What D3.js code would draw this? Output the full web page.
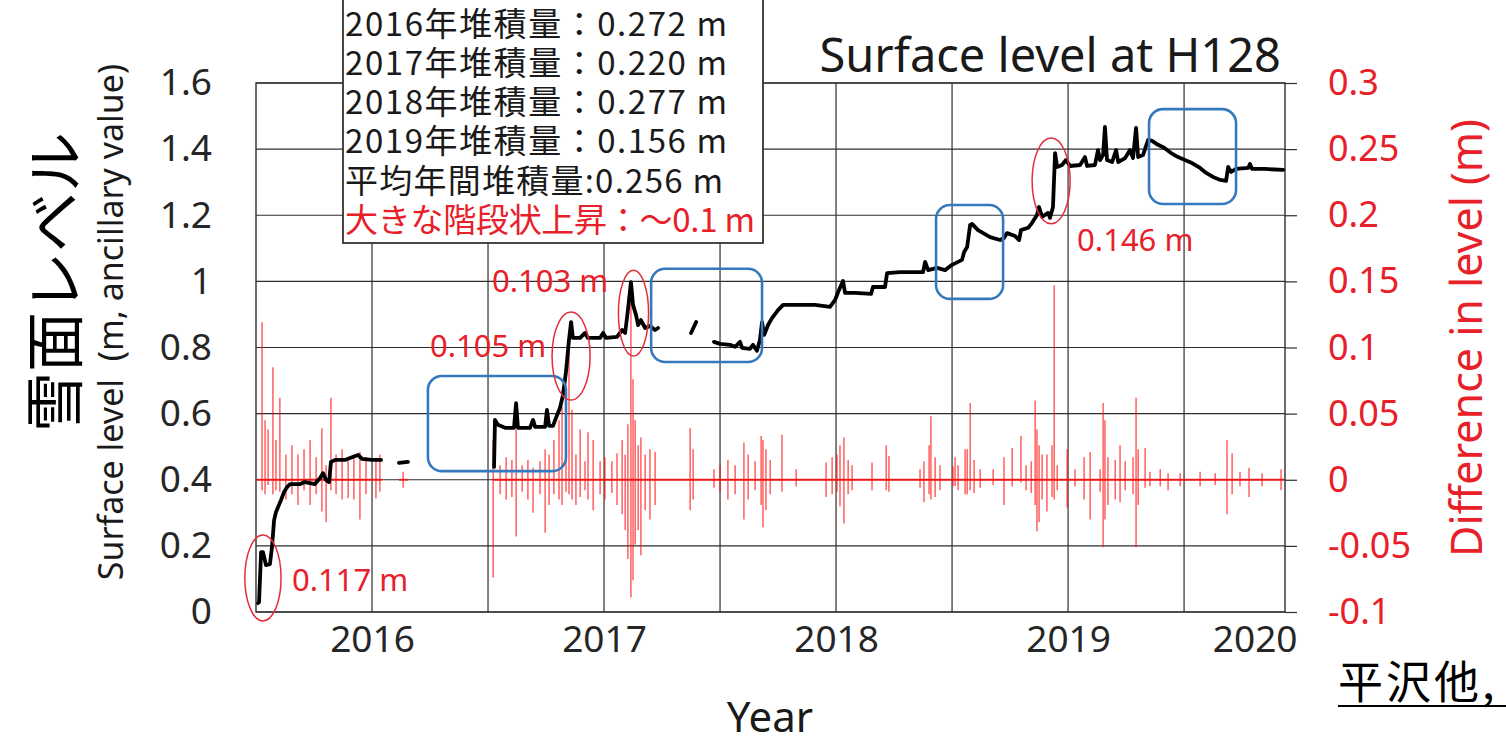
<!DOCTYPE html>
<html>
<head>
<meta charset="utf-8">
<script src="https://cdn.jsdelivr.net/npm/d3@7"></script>
<style>
  html, body { margin: 0; padding: 0; background: #ffffff; }
  svg { display: block; }
  text { font-family: "Noto Sans", "Noto Sans CJK JP", sans-serif; }
  .jp { font-family: "Noto Sans CJK JP", "Noto Sans", sans-serif; }
</style>
</head>
<body>
<svg id="chart" width="1506" height="740"></svg>
<script>
// ---------------- data ----------------
const yearTicks  = [2016, 2017, 2018, 2019, 2020];
const gridYears  = [2016, 2016.5, 2017, 2017.5, 2018, 2018.5, 2019, 2019.5];
const levelTicks = [0, 0.2, 0.4, 0.6, 0.8, 1.0, 1.2, 1.4, 1.6];
const diffTicks  = [-0.1, -0.05, 0, 0.05, 0.1, 0.15, 0.2, 0.25, 0.3];

// Surface level (m) at H128, decimal year; null marks missing record
const levelYears = [
  2015.509, 2015.513, 2015.522, 2015.530, 2015.543, 2015.560, 2015.569, 2015.578, 2015.586, 2015.599,
  2015.608, 2015.621, 2015.634, 2015.647, 2015.690, 2015.711, 2015.754, 2015.776, 2015.789, 2015.802,
  2015.815, 2015.823, 2015.841, 2015.884, 2015.905, 2015.940, 2015.957, 2016.000, 2016.039, 2016.080,
  2016.116, 2016.155, 2016.300,
  2016.526, 2016.530, 2016.543, 2016.573, 2016.612, 2016.621, 2016.629, 2016.681, 2016.694, 2016.703,
  2016.746, 2016.754, 2016.763, 2016.780, 2016.793, 2016.810, 2016.823, 2016.836, 2016.849, 2016.858,
  2016.866, 2016.897, 2016.918, 2016.931, 2016.983, 2016.996, 2017.009, 2017.056, 2017.078, 2017.091,
  2017.103, 2017.116, 2017.125, 2017.138, 2017.147, 2017.159, 2017.177, 2017.198, 2017.220, 2017.233,
  2017.300, 2017.375, 2017.397, 2017.430,
  2017.474, 2017.500, 2017.543, 2017.565, 2017.586, 2017.595, 2017.629, 2017.642, 2017.659, 2017.672,
  2017.681, 2017.690, 2017.707, 2017.724, 2017.750, 2017.772, 2017.845, 2017.909, 2017.974, 2017.996,
  2018.009, 2018.030, 2018.039, 2018.082, 2018.151, 2018.159, 2018.211, 2018.220, 2018.276, 2018.375,
  2018.384, 2018.397, 2018.435, 2018.470, 2018.500, 2018.543, 2018.552, 2018.565, 2018.578, 2018.586,
  2018.612, 2018.664, 2018.707, 2018.724, 2018.737, 2018.772, 2018.789, 2018.797, 2018.828, 2018.845,
  2018.866, 2018.875, 2018.888, 2018.914, 2018.922, 2018.935, 2018.944, 2018.953, 2018.974, 2018.991,
  2019.009, 2019.052, 2019.073, 2019.082, 2019.116, 2019.129, 2019.138, 2019.151, 2019.159, 2019.168,
  2019.190, 2019.207, 2019.216, 2019.246, 2019.267, 2019.280, 2019.293, 2019.302, 2019.323, 2019.345,
  2019.362, 2019.388, 2019.414, 2019.444, 2019.474, 2019.504, 2019.534, 2019.569, 2019.595, 2019.625,
  2019.655, 2019.681, 2019.690, 2019.703, 2019.724, 2019.776, 2019.784, 2019.793, 2019.849, 2019.927
];
const levelValues = [
  0.027, 0.030, 0.181, 0.181, 0.142, 0.145, 0.197, 0.278, 0.302, 0.324,
  0.339, 0.363, 0.378, 0.387, 0.387, 0.393, 0.387, 0.405, 0.420, 0.399,
  0.393, 0.454, 0.460, 0.460, 0.466, 0.475, 0.463, 0.460, 0.460, null,
  0.451, 0.454, null,
  0.439, 0.581, 0.566, 0.557, 0.557, 0.632, 0.557, 0.557, 0.581, 0.560,
  0.560, 0.611, 0.563, 0.563, 0.587, 0.617, 0.656, 0.726, 0.823, 0.877,
  0.829, 0.829, 0.844, 0.829, 0.829, 0.844, 0.829, 0.832, 0.853, 0.844,
  0.913, 0.998, 0.929, 0.898, 0.868, 0.883, 0.859, 0.865, 0.853, 0.859,
  null, 0.844, 0.877, null,
  0.817, 0.811, 0.808, 0.802, 0.817, 0.799, 0.796, 0.808, 0.790, 0.823,
  0.877, 0.838, 0.868, 0.889, 0.913, 0.929, 0.929, 0.929, 0.923, 0.944,
  0.968, 1.001, 0.965, 0.965, 0.962, 0.983, 0.983, 1.025, 1.028, 1.028,
  1.059, 1.034, 1.041, 1.034, 1.050, 1.065, 1.089, 1.104, 1.171, 1.174,
  1.155, 1.134, 1.125, 1.131, 1.146, 1.137, 1.125, 1.155, 1.162, 1.177,
  1.201, 1.225, 1.195, 1.207, 1.192, 1.225, 1.388, 1.346, 1.352, 1.367,
  1.349, 1.352, 1.376, 1.349, 1.352, 1.397, 1.367, 1.382, 1.467, 1.367,
  1.361, 1.397, 1.361, 1.373, 1.397, 1.373, 1.464, 1.376, 1.382, 1.428,
  1.425, 1.413, 1.404, 1.388, 1.376, 1.367, 1.358, 1.343, 1.328, 1.316,
  1.307, 1.304, 1.346, 1.331, 1.340, 1.343, 1.355, 1.340, 1.340, 1.337
];

// Level difference (m): recorded periods and spike extremes
const diffSpans = [[2015.504, 2016.043], [2016.116, 2016.155], [2016.522, 2019.930]];
const diffYears = [
  2015.526, 2015.539, 2015.552, 2015.573, 2015.586, 2015.603, 2015.629, 2015.655, 2015.681, 2015.707,
  2015.733, 2015.759, 2015.784, 2015.802, 2015.823, 2015.845, 2015.871, 2015.897, 2015.922, 2015.948,
  2015.974, 2016.017, 2016.034, 2016.134,
  2016.522, 2016.552, 2016.578, 2016.603, 2016.621, 2016.647, 2016.672, 2016.694, 2016.724, 2016.746,
  2016.763, 2016.784, 2016.806, 2016.819, 2016.836, 2016.849, 2016.862, 2016.879, 2016.897, 2016.918,
  2016.931, 2016.953, 2016.983, 2017.004, 2017.034, 2017.056, 2017.078, 2017.091, 2017.103, 2017.116,
  2017.125, 2017.134, 2017.147, 2017.159, 2017.177, 2017.198, 2017.220, 2017.371, 2017.384, 2017.474,
  2017.500, 2017.534, 2017.565, 2017.603, 2017.621, 2017.651, 2017.677, 2017.685, 2017.698, 2017.716,
  2017.767, 2017.828, 2017.957, 2017.983, 2018.004, 2018.017, 2018.034, 2018.052, 2018.069, 2018.155,
  2018.216, 2018.228, 2018.362, 2018.379, 2018.401, 2018.409, 2018.427, 2018.448, 2018.504, 2018.513,
  2018.526, 2018.556, 2018.565, 2018.578, 2018.595, 2018.621, 2018.677, 2018.724, 2018.759, 2018.797,
  2018.819, 2018.841, 2018.858, 2018.866, 2018.875, 2018.888, 2018.909, 2018.931, 2018.940, 2018.953,
  2018.996, 2019.030, 2019.069, 2019.095, 2019.138, 2019.151, 2019.159, 2019.172, 2019.203, 2019.224,
  2019.246, 2019.280, 2019.293, 2019.302, 2019.332, 2019.353, 2019.397, 2019.431, 2019.483, 2019.569,
  2019.634, 2019.685, 2019.707, 2019.741, 2019.780, 2019.836, 2019.918
];
const diffUp = [
  0.119, 0.045, 0.038, 0.085, 0.030, 0.062, 0.019, 0.026, 0.019, 0.023,
  0.030, 0.017, 0.039, 0.011, 0.062, 0.019, 0.023, 0.014, 0.019, 0.021,
  0.017, 0.014, 0.019, 0.006,
  0.030, 0.011, 0.017, 0.015, 0.038, 0.011, 0.015, 0.009, 0.014, 0.023,
  0.019, 0.030, 0.045, 0.055, 0.060, 0.104, 0.053, 0.019, 0.038, 0.014,
  0.036, 0.030, 0.014, 0.017, 0.014, 0.020, 0.030, 0.019, 0.042, 0.140,
  0.076, 0.045, 0.026, 0.032, 0.019, 0.023, 0.021, 0.039, 0.023, 0.008,
  0.011, 0.015, 0.011, 0.028, 0.019, 0.014, 0.033, 0.030, 0.023, 0.015,
  0.034, 0.008, 0.013, 0.017, 0.019, 0.026, 0.032, 0.015, 0.011, 0.013,
  0.026, 0.018, 0.008, 0.014, 0.026, 0.048, 0.017, 0.011, 0.010, 0.017,
  0.011, 0.023, 0.023, 0.058, 0.015, 0.008, 0.008, 0.017, 0.024, 0.033,
  0.011, 0.014, 0.060, 0.038, 0.026, 0.019, 0.019, 0.026, 0.147, 0.011,
  0.023, 0.008, 0.017, 0.021, 0.008, 0.058, 0.045, 0.017, 0.015, 0.026,
  0.014, 0.017, 0.062, 0.023, 0.024, 0.006, 0.008, 0.005, 0.005, 0.006,
  0.005, 0.030, 0.020, 0.006, 0.009, 0.005, 0.008
];
const diffDown = [
  -0.008, -0.011, -0.004, -0.011, -0.008, -0.009, -0.015, -0.011, -0.019, -0.008,
  -0.019, -0.011, -0.024, -0.032, -0.008, -0.011, -0.015, -0.014, -0.015, -0.030,
  -0.011, -0.014, -0.009, -0.006,
  -0.074, -0.011, -0.015, -0.013, -0.043, -0.009, -0.015, -0.025, -0.011, -0.040,
  -0.019, -0.011, -0.015, -0.019, -0.009, -0.011, -0.015, -0.019, -0.013, -0.008,
  -0.015, -0.023, -0.011, -0.015, -0.010, -0.019, -0.026, -0.038, -0.060, -0.089,
  -0.076, -0.049, -0.038, -0.057, -0.023, -0.030, -0.019, -0.023, -0.015, -0.006,
  -0.009, -0.015, -0.011, -0.030, -0.015, -0.008, -0.019, -0.036, -0.023, -0.011,
  -0.009, -0.005, -0.013, -0.011, -0.009, -0.020, -0.033, -0.011, -0.008, -0.008,
  -0.008, -0.009, -0.006, -0.017, -0.011, -0.015, -0.013, -0.008, -0.005, -0.005,
  -0.008, -0.011, -0.011, -0.008, -0.010, -0.006, -0.004, -0.019, -0.005, -0.002,
  -0.008, -0.010, -0.019, -0.039, -0.032, -0.015, -0.024, -0.013, -0.015, -0.008,
  -0.021, -0.005, -0.015, -0.030, -0.009, -0.051, -0.030, -0.019, -0.015, -0.017,
  -0.008, -0.011, -0.051, -0.019, -0.006, -0.005, -0.005, -0.008, -0.005, -0.005,
  -0.004, -0.026, -0.011, -0.005, -0.013, -0.005, -0.008
];

// Highlighted periods (blue) : [startYear, endYear, lowLevel, highLevel]
const boxYears0 = [2016.241, 2017.203, 2018.431, 2019.349];
const boxYears1 = [2016.836, 2017.681, 2018.720, 2019.724];
const boxLow    = [0.426, 0.756, 0.947, 1.234];
const boxHigh   = [0.714, 1.038, 1.231, 1.521];

// Step rises (red ellipses) : centre year / level, half-width (yr), half-height (m)
const stepYears   = [2015.530, 2016.858, 2017.127, 2018.927];
const stepLevels  = [0.103, 0.774, 0.904, 1.304];
const stepHalfYr  = [0.078, 0.082, 0.065, 0.082];
const stepHalfLv  = [0.130, 0.133, 0.130, 0.130];
const stepLabels  = ["0.117 m", "0.105 m", "0.103 m", "0.146 m"];
const stepLabelYr = [2015.655, 2016.250, 2016.517, 2019.039];
const stepLabelLv = [0.097, 0.806, 1.001, 1.125];

const noteLines = [
  "2016年堆積量：0.272 m",
  "2017年堆積量：0.220 m",
  "2018年堆積量：0.277 m",
  "2019年堆積量：0.156 m",
  "平均年間堆積量:0.256 m",
  "大きな階段状上昇：～0.1 m"
];
const noteWidths = [382, 382, 382, 382, 378, 410];

// ---------------- drawing ----------------
const svg = d3.select("#chart");
const plot = { left: 256, right: 1285, top: 83, bottom: 612 };
const RED = "#e8202a";
const GRID = "#2e2e2e";

const x  = d3.scaleLinear().domain([2015.5, 2019.935]).range([plot.left, plot.right]);
const yL = d3.scaleLinear().domain([0, 1.6]).range([plot.bottom, plot.top]);
const yR = d3.scaleLinear().domain([-0.1, 0.3]).range([plot.bottom, plot.top]);

// grid
const grid = svg.append("g").attr("stroke", GRID).attr("stroke-width", 1.2);
grid.selectAll("line.h").data(levelTicks).join("line")
  .attr("x1", plot.left).attr("x2", plot.right)
  .attr("y1", d => yL(d)).attr("y2", d => yL(d));
grid.selectAll("line.v").data(gridYears).join("line")
  .attr("x1", d => x(d)).attr("x2", d => x(d))
  .attr("y1", plot.top).attr("y2", plot.bottom);
svg.append("rect")
  .attr("x", plot.left).attr("y", plot.top)
  .attr("width", plot.right - plot.left).attr("height", plot.bottom - plot.top)
  .attr("fill", "none").attr("stroke", GRID).attr("stroke-width", 1.4);

// difference series (right axis)
const diffG = svg.append("g").attr("stroke", "#ff1010").attr("stroke-width", 1.1).attr("opacity", 0.9);
diffG.selectAll("line.base").data(diffSpans).join("line")
  .attr("x1", d => x(d[0])).attr("x2", d => x(d[1]))
  .attr("y1", yR(0)).attr("y2", yR(0)).attr("stroke-width", 1.8);
diffG.selectAll("line.spike").data(diffYears.map((t, i) => [t, diffUp[i], diffDown[i]])).join("line")
  .attr("x1", d => x(d[0])).attr("x2", d => x(d[0]))
  .attr("y1", d => yR(d[2])).attr("y2", d => yR(d[1]));

// surface level series (left axis)
const levelData = levelYears.map((t, i) => [t, levelValues[i]]);
svg.append("path")
  .datum(levelData)
  .attr("fill", "none").attr("stroke", "#000").attr("stroke-width", 3.8)
  .attr("stroke-linejoin", "round").attr("stroke-linecap", "round")
  .attr("d", d3.line().defined(d => d[1] !== null).x(d => x(d[0])).y(d => yL(d[1])));

// highlighted periods
svg.append("g").selectAll("rect").data(boxYears0.map((t, i) => i)).join("rect")
  .attr("x", i => x(boxYears0[i])).attr("y", i => yL(boxHigh[i]))
  .attr("width", i => x(boxYears1[i]) - x(boxYears0[i]))
  .attr("height", i => yL(boxLow[i]) - yL(boxHigh[i]))
  .attr("rx", 14).attr("ry", 14)
  .attr("fill", "none").attr("stroke", "#3478bd").attr("stroke-width", 2.6);

// step rises
svg.append("g").selectAll("ellipse").data(stepYears.map((t, i) => i)).join("ellipse")
  .attr("cx", i => x(stepYears[i])).attr("cy", i => yL(stepLevels[i]))
  .attr("rx", i => x(stepYears[i] + stepHalfYr[i]) - x(stepYears[i]))
  .attr("ry", i => yL(stepLevels[i] - stepHalfLv[i]) - yL(stepLevels[i]))
  .attr("fill", "none").attr("stroke", "#e0303a").attr("stroke-width", 1.5);
svg.append("g").selectAll("text").data(stepLabels).join("text")
  .attr("x", (d, i) => x(stepLabelYr[i])).attr("y", (d, i) => yL(stepLabelLv[i]))
  .attr("dy", "0.36em").attr("fill", RED).attr("font-size", 31)
  .text(d => d);

// axes
const fmtL = d => String(+d.toFixed(1));
const fmtR = d => String(+d.toFixed(2));
const axL = svg.append("g").attr("transform", `translate(${plot.left},0)`)
  .call(d3.axisLeft(yL).tickValues(levelTicks).tickFormat(fmtL).tickSize(0).tickPadding(44));
axL.select(".domain").remove();
axL.selectAll("text").attr("font-size", 37).attr("fill", "#262626").attr("font-family", "Noto Sans");

const axR = svg.append("g").attr("transform", `translate(${plot.right},0)`)
  .call(d3.axisRight(yR).tickValues(diffTicks).tickFormat(fmtR).tickSizeOuter(0).tickSize(12).tickPadding(31));
axR.select(".domain").remove();
axR.selectAll("line").attr("stroke", GRID).attr("stroke-width", 1.2);
axR.selectAll("text").attr("font-size", 36).attr("fill", RED).attr("font-family", "Noto Sans");

const axB = svg.append("g").attr("transform", `translate(0,${plot.bottom})`)
  .call(d3.axisBottom(x).tickValues(yearTicks).tickFormat(d3.format("d")).tickSize(0).tickPadding(14));
axB.select(".domain").remove();
axB.selectAll("text").attr("font-size", 37).attr("fill", "#262626").attr("font-family", "Noto Sans");
// keep the last year label inside the frame edge
axB.selectAll(".tick").each(function (d) {
  const t = d3.select(this).select("text");
  const w = t.node().getComputedTextLength();
  const cx = x(d);
  const limit = plot.right + 12;
  if (cx + w / 2 > limit) t.attr("x", limit - w / 2 - cx);
});

// title
svg.append("text").attr("x", 1281).attr("y", 72).attr("text-anchor", "end")
  .attr("font-size", 47).attr("fill", "#1a1a1a").text("Surface level at H128");

// axis titles
svg.append("text").attr("transform", "translate(110,322) rotate(-90)")
  .attr("text-anchor", "middle").attr("dominant-baseline", "central")
  .attr("font-size", 34).attr("fill", "#1a1a1a").style("white-space", "pre")
  .text("Surface level  (m, ancillary value)");
svg.append("text").attr("class", "jp").attr("transform", "translate(50,282) rotate(-90)")
  .attr("text-anchor", "middle").attr("dominant-baseline", "central")
  .attr("font-size", 60).attr("fill", "#000").text("雪面レベル");
svg.append("text").attr("transform", "translate(1465,338) rotate(-90)")
  .attr("text-anchor", "middle").attr("dominant-baseline", "central")
  .attr("font-size", 43).attr("fill", RED).text("Difference in level (m)");
svg.append("text").attr("x", 770).attr("y", 732).attr("text-anchor", "middle")
  .attr("font-size", 42).attr("fill", "#1a1a1a").text("Year");

// accumulation notes
const note = svg.append("g");
note.append("rect").attr("x", 343).attr("y", -2).attr("width", 420).attr("height", 245)
  .attr("fill", "#fff").attr("stroke", "#333").attr("stroke-width", 1.8);
note.selectAll("text").data(noteLines).join("text")
  .attr("class", "jp")
  .attr("x", 345).attr("y", (d, i) => 24 + i * 39.2).attr("dy", "0.36em")
  .attr("font-size", 33)
  .attr("textLength", (d, i) => noteWidths[i]).attr("lengthAdjust", "spacing")
  .attr("fill", (d, i) => i === noteLines.length - 1 ? RED : "#1a1a1a")
  .text(d => d);

// source
svg.append("text").attr("class", "jp").attr("x", 1338).attr("y", 699)
  .attr("font-size", 45).attr("letter-spacing", 3).attr("fill", "#000").text("平沢他,");
svg.append("line").attr("x1", 1338).attr("x2", 1506).attr("y1", 706).attr("y2", 706)
  .attr("stroke", "#000").attr("stroke-width", 2);
</script>
</body>
</html>
